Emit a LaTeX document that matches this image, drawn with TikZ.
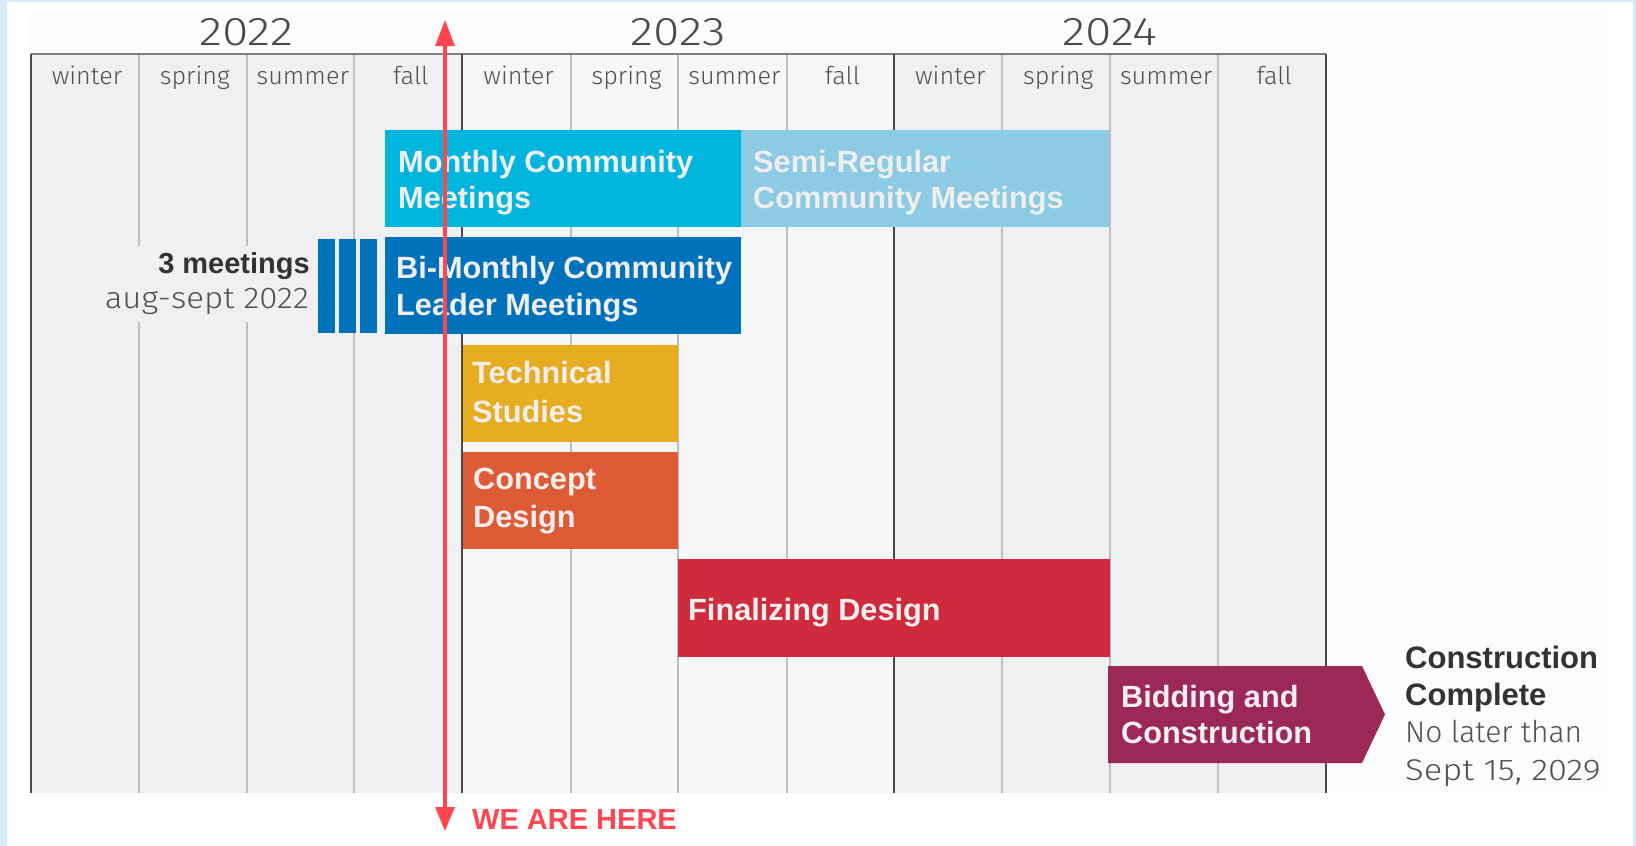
\documentclass[tikz,border=0pt]{standalone}
\usepackage{fontspec}
\setmainfont{Liberation Sans}
\IfFontExistsTF{Fira Sans Light}{\newfontfamily\lightf{Fira Sans Light}}{\newfontfamily\lightf{Liberation Sans}}
\usetikzlibrary{arrows.meta}
\definecolor{frameblue}{HTML}{D8ECF7}
\definecolor{panel}{HTML}{FBFCFD}
\definecolor{colA}{HTML}{EFF0F2}
\definecolor{colB}{HTML}{F5F6F7}
\definecolor{thinline}{HTML}{BDBDBD}
\definecolor{darkline}{HTML}{4A4A4A}
\definecolor{cMonthly}{HTML}{00B5DE}
\definecolor{cSemi}{HTML}{8CCBE4}
\definecolor{cBi}{HTML}{0072BC}
\definecolor{cTech}{HTML}{E6AD21}
\definecolor{cConcept}{HTML}{DD5C36}
\definecolor{cFinal}{HTML}{CF2B3C}
\definecolor{cBid}{HTML}{9C2858}
\definecolor{hereRed}{HTML}{FF4650}
\definecolor{barText}{HTML}{F1EEEE}
\definecolor{darkText}{HTML}{333333}
\definecolor{greyText}{HTML}{505050}
\newcommand{\widen}[2]{\scalebox{#1}[1]{#2}}
\tikzset{
  bar/.style={rectangle, inner sep=0pt, outer sep=0pt, anchor=north west, draw=none},
  barlabel/.style={anchor=base west, inner sep=0pt, text=barText, font=\bfseries\fontsize{30.7}{36}\selectfont},
  season/.style={anchor=base, inner sep=0pt, text=greyText, font=\lightf\fontsize{24.5}{28}\selectfont},
  yearlabel/.style={anchor=base, inner sep=0pt, text=darkline, font=\lightf\fontsize{40}{48}\selectfont},
  notebold/.style={inner sep=0pt, text=darkText, font=\bfseries\fontsize{29}{34}\selectfont},
  notelight/.style={inner sep=0pt, text=greyText, font=\lightf\fontsize{30}{36}\selectfont},
  thingrid/.style={draw=thinline, line width=1.1pt},
  yeargrid/.style={draw=darkline, line width=1.6pt}
}
\begin{document}
\begin{tikzpicture}[x=1pt,y=-1pt]
\useasboundingbox (0,0) rectangle (1636,846);
% frame and panel
\fill[frameblue] (0,0) rectangle (1636,846);
\fill[white] (7,2) rectangle (1633,846);
\fill[panel] (30,10) rectangle (1607,793);
% columns
\fill[colA] (31,54) rectangle (462,793);
\fill[colB] (462,54) rectangle (894,793);
\fill[colA] (894,54) rectangle (1326,793);
\foreach \x in {139,247,354,571,678,787,1002,1110,1218}
  \draw[thingrid] (\x,54) -- (\x,793);
\draw[draw=gray, line width=1.2pt] (31,54) -- (1326,54);
\foreach \x in {31,462,894,1326}
  \draw[yeargrid] (\x,54) -- (\x,793);
% years and seasons
\node[yearlabel] (y2022) at (246.5,45) {\widen{1.2}{2022}};
\node[yearlabel] (y2023) at (678,45) {\widen{1.2}{2023}};
\node[yearlabel] (y2024) at (1110,45) {\widen{1.2}{2024}};
\foreach \s [count=\i from 0] in {winter,spring,summer,fall,winter,spring,summer,fall,winter,spring,summer,fall}
  \node[season] (season\i) at ({31+107.92*(\i+0.5)+2},84) {\widen{1.03}{\s}};
% 3 meetings label with patch
\node[bar, fill=colA, anchor=north east, minimum width=216pt, minimum height=76pt] (patch) at (313,246) {};
\node[notebold, anchor=base east] (threemeet) at (310,273) {3 meetings};
\node[notelight, anchor=base east] (augsept) at (309,308) {\widen{1.1}{aug-sept 2022}};
\node[bar, fill=cBi, minimum width=17pt, minimum height=94pt] (m1) at (318,239) {};
\node[bar, fill=cBi, minimum width=17pt, minimum height=94pt] (m2) at (339,239) {};
\node[bar, fill=cBi, minimum width=17pt, minimum height=94pt] (m3) at (360,239) {};
% bars
\node[bar, fill=cMonthly, minimum width=356pt, minimum height=97pt] (monthly) at (385,130) {};
\node[bar, fill=cSemi, minimum width=368pt, minimum height=97pt] (semi) at (741,130) {};
\node[bar, fill=cBi, minimum width=356pt, minimum height=97pt] (bimonthly) at (385,237) {};
\node[bar, fill=cTech, minimum width=215pt, minimum height=97pt] (tech) at (463,345) {};
\node[bar, fill=cConcept, minimum width=215pt, minimum height=97pt] (concept) at (463,452) {};
\node[bar, fill=cFinal, minimum width=432pt, minimum height=98pt] (final) at (678,559) {};
\fill[cBid] (1108,666) -- (1362,666) -- (1385,714.5) -- (1362,763) -- (1108,763) -- cycle;
% bar labels
\node[barlabel] (lm1) at (398,172) {Monthly Community};
\node[barlabel] (lm2) at (398,208) {Meetings};
\node[barlabel] (ls1) at (753,172) {Semi-Regular};
\node[barlabel] (ls2) at (753,208) {Community Meetings};
\node[barlabel] (lb1) at (396,278) {Bi-Monthly Community};
\node[barlabel] (lb2) at (396,315) {Leader Meetings};
\node[barlabel] (lt1) at (472,383) {Technical};
\node[barlabel] (lt2) at (472,422) {Studies};
\node[barlabel] (lc1) at (473,489) {Concept};
\node[barlabel] (lc2) at (473,527) {Design};
\node[barlabel] (lf1) at (688,620) {Finalizing Design};
\node[barlabel] (ld1) at (1121,707) {Bidding and};
\node[barlabel] (ld2) at (1121,743) {Construction};
% completion note
\node[notebold, font=\bfseries\fontsize{31}{36}\selectfont, anchor=base west] (cc1) at (1405,668) {Construction};
\node[notebold, font=\bfseries\fontsize{31}{36}\selectfont, anchor=base west] (cc2) at (1405,705) {Complete};
\node[notelight, anchor=base west] (cc3) at (1405,742) {No later than};
\node[notelight, anchor=base west] (cc4) at (1405,780) {\widen{1.15}{Sept 15, 2029}};
% we are here
\coordinate (hereTop) at (445,20);
\coordinate (hereBot) at (445,831);
\draw[hereRed, line width=3.3pt, {Triangle[length=26pt,width=19pt]}-{Triangle[length=24pt,width=19pt]}] (hereTop) -- (hereBot);
\node[anchor=base west, inner sep=0pt, text=hereRed, font=\bfseries\fontsize{29}{34}\selectfont] (here) at (472,829) {WE ARE HERE};
\end{tikzpicture}
\end{document}
